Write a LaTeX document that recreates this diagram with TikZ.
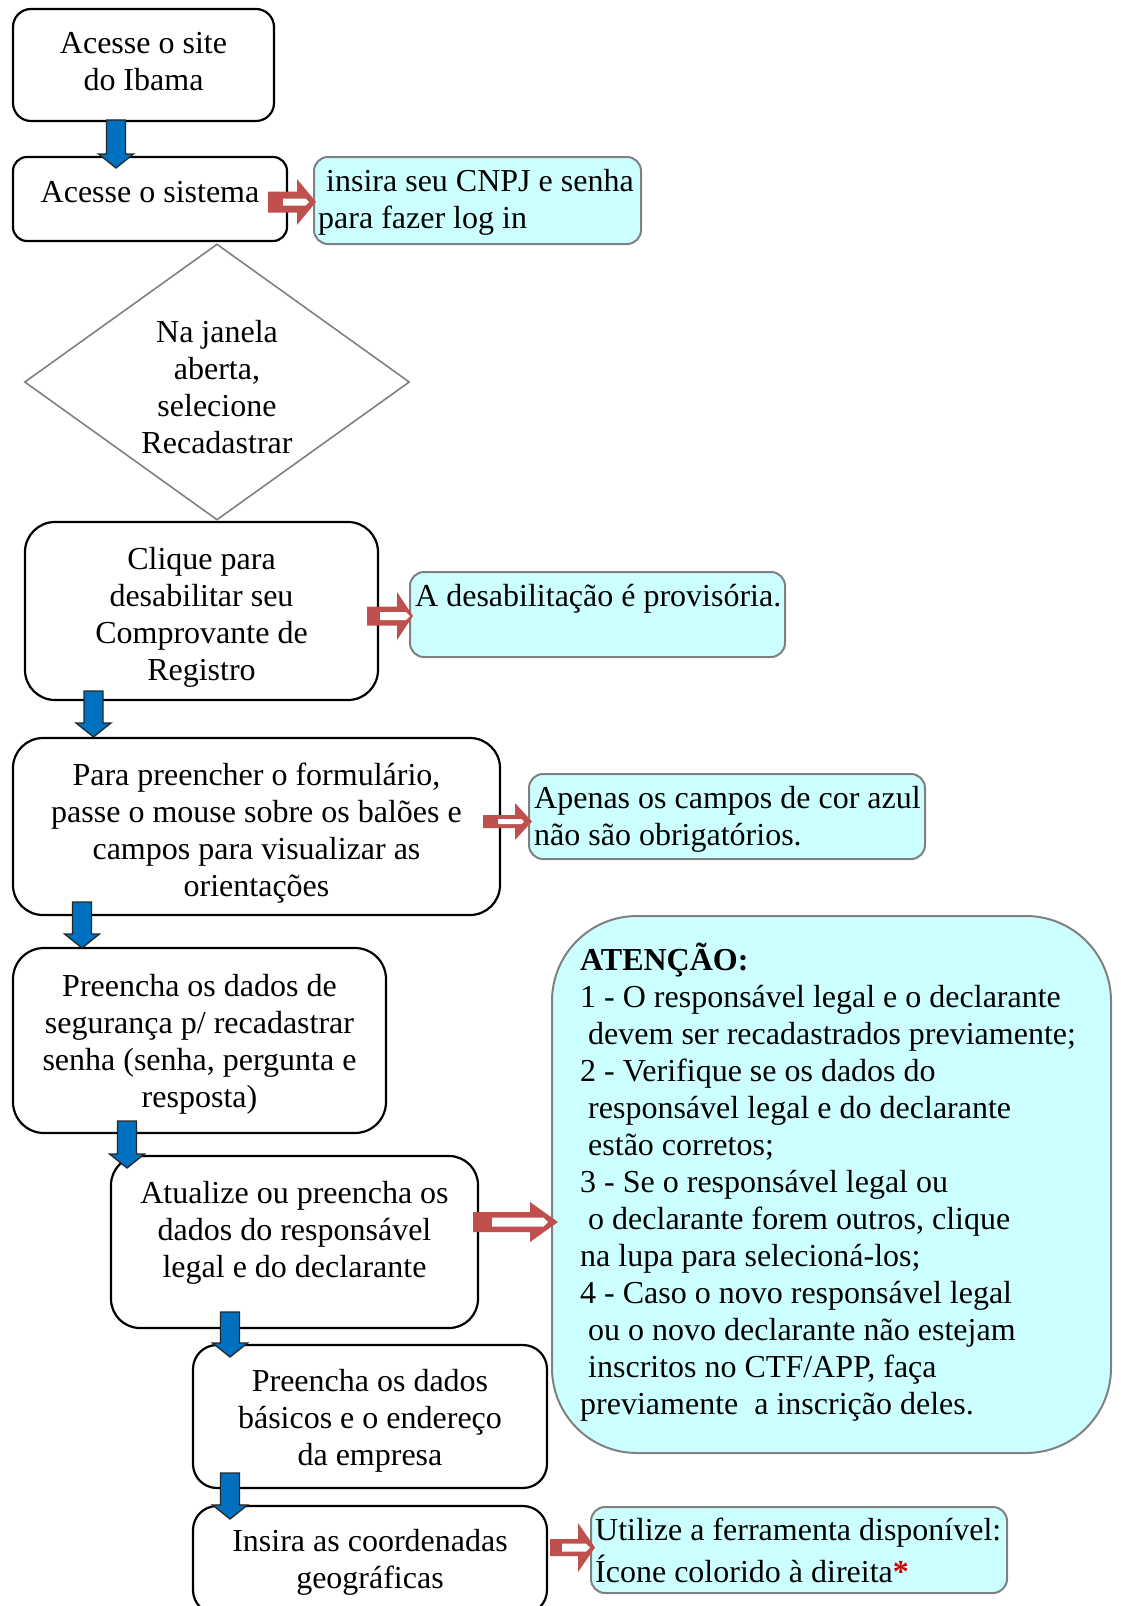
\documentclass[tikz,border=0pt]{standalone}
\usepackage{fontspec}
\setmainfont{Liberation Serif}
\usetikzlibrary{shapes.geometric}

\definecolor{azulseta}{RGB}{0,112,192}
\definecolor{vermseta}{RGB}{192,80,77}
\definecolor{cianonota}{RGB}{204,255,255}
\definecolor{cinzaborda}{RGB}{128,128,128}

\tikzset{
	etapa/.style={draw, line width=2.2pt, inner sep=0pt, rounded corners=#1},
	etapatexto/.style={align=center, inner sep=0pt},
	nota/.style={draw=cinzaborda, fill=cianonota, line width=2pt, inner sep=0pt, rounded corners=#1},
	notatexto/.style={align=left, inner sep=0pt, anchor=west},
	setaazul/.style={fill=azulseta, draw=black!85, line width=1.3pt, line join=miter},
	setaverm/.style={fill=vermseta},
	listra/.style={fill=white}
}

% seta azul para baixo: x, y do topo, y da ponta
\newcommand{\setabaixo}[3]{%
	\filldraw[setaazul] (#1-9.5,#2) -- (#1+9.5,#2) -- (#1+9.5,#3-14) -- (#1+17.5,#3-14)
		-- (#1,#3) -- (#1-17.5,#3-14) -- (#1-9.5,#3-14) -- cycle;}

% seta vermelha vazada: x1, x2, y, cabeca, meia altura cabeca, meia altura haste, listra x1, listra x2, meia listra
\newcommand{\setadir}[9]{%
	\fill[setaverm] (#1,#3-#6) -- (#2-#4,#3-#6) -- (#2-#4,#3-#5) -- (#2,#3)
		-- (#2-#4,#3+#5) -- (#2-#4,#3+#6) -- (#1,#3+#6) -- cycle;
	\fill[listra] (#7,#3-#9) -- (#8-#9,#3-#9) -- (#8,#3) -- (#8-#9,#3+#9) -- (#7,#3+#9) -- cycle;}

\begin{document}
\begin{tikzpicture}[x=1pt, y=-1pt, font=\fontsize{32}{37}\selectfont]
	
	\useasboundingbox (0,0) rectangle (1121,1606);
	\clip (0,0) rectangle (1121,1606);
	
	% caixas do fluxo
	\node[etapa=18pt, minimum width=261pt, minimum height=112pt] (b1) at (143.5,65) {};
	\node[etapatexto] (b1t) at ([yshift=3pt]b1.center) {Acesse o site\\do Ibama};
	\node[etapa=14pt, minimum width=274pt, minimum height=84pt] (b2) at (150,199) {};
	\node[etapatexto] (b2t) at ([yshift=7pt]b2.center) {Acesse o sistema};
	\node[diamond, draw=cinzaborda, line width=1.6pt, aspect=1.4, inner sep=0pt,
		minimum width=385pt, minimum height=276pt] (d1) at (217,382) {};
	\node[etapatexto] (d1t) at ([yshift=-5pt]d1.center) {Na janela\\aberta,\\selecione\\Recadastrar};
	\node[etapa=30pt, minimum width=353pt, minimum height=178pt] (b3) at (201.5,611) {};
	\node[etapatexto] (b3t) at ([yshift=-6pt]b3.center) {Clique para\\desabilitar seu\\Comprovante de\\Registro};
	\node[etapa=30pt, minimum width=487pt, minimum height=177pt] (b4) at (256.5,826.5) {};
	\node[etapatexto] (b4t) at ([yshift=-7pt]b4.center) {Para preencher o formulário,\\passe o mouse sobre os balões e\\campos para visualizar as\\orientações};
	\node[etapa=31pt, minimum width=373pt, minimum height=185pt] (b5) at (199.5,1040.5) {};
	\node[etapatexto] (b5t) at ([yshift=-4pt]b5.center) {Preencha os dados de\\segurança p/ recadastrar\\senha (senha, pergunta e\\resposta)};
	\node[etapa=29pt, minimum width=367pt, minimum height=172pt] (b6) at (294.5,1242) {};
	\node[etapatexto] (b6t) at ([yshift=9pt]b6.center) {Atualize ou preencha os\\dados do responsável\\legal e do declarante};
	\node[etapa=24pt, minimum width=354pt, minimum height=143pt] (b7) at (370,1416.5) {};
	\node[etapatexto] (b7t) at ([yshift=-4pt]b7.center) {Preencha os dados\\básicos e o endereço\\da empresa};
	\node[etapa=24pt, minimum width=354pt, minimum height=108pt] (b8) at (370,1560) {};
	\node[etapatexto] (b8t) at ([yshift=-2pt]b8.center) {Insira as coordenadas\\geográficas};
	
	% notas
	\node[nota=14pt, minimum width=327pt, minimum height=87pt] (c1) at (477.5,200.5) {};
	\node[notatexto] (c1t) at ([xshift=5pt,yshift=-2pt]c1.west) {\hspace*{.25em}insira seu CNPJ e senha\\para fazer log in};
	\node[nota=14pt, minimum width=375pt, minimum height=85pt] (c2) at (597.5,614.5) {};
	\node[notatexto, anchor=base west] (c2t) at ([xshift=6pt,yshift=-35pt]c2.north west) {A desabilitação é provisória.};
	\node[nota=14pt, minimum width=396pt, minimum height=85pt] (c3) at (727,816.5) {};
	\node[notatexto] (c3t) at ([xshift=6pt,yshift=-3pt]c3.west) {Apenas os campos de cor azul\\não são obrigatórios.};
	\node[nota=85pt, minimum width=559pt, minimum height=537pt] (c4) at (831.5,1184.5) {};
	\node[notatexto] (c4t) at ([xshift=29pt,yshift=2pt]c4.west) {\textbf{ATENÇÃO:}\\
		1 - O responsável legal e o declarante\\
		\hspace*{.25em}devem ser recadastrados previamente;\\
		2 - Verifique se os dados do\\
		\hspace*{.25em}responsável legal e do declarante\\
		\hspace*{.25em}estão corretos;\\
		3 - Se o responsável legal ou\\
		\hspace*{.25em}o declarante forem outros, clique\\
		na lupa para selecioná-los;\\
		4 - Caso o novo responsável legal\\
		\hspace*{.25em}ou o novo declarante não estejam\\
		\hspace*{.25em}inscritos no CTF/APP, faça\\
		previamente\ \ a inscrição deles.};
	\node[nota=14pt, minimum width=416pt, minimum height=86pt] (c5) at (799,1550) {};
	\node[notatexto] (c5t) at ([xshift=5pt]c5.west) {Utilize a ferramenta disponível:\\[5pt]Ícone colorido à direita\textcolor{red!80!black}{\textbf{*}}};
	
	% setas azuis
	\setabaixo{116}{120}{168}
	\setabaixo{93.5}{691}{737}
	\setabaixo{82}{902}{948}
	\setabaixo{127}{1121}{1168}
	\setabaixo{230}{1312}{1357}
	\setabaixo{230}{1473}{1519}
	
	% setas vermelhas
	\setadir{268}{316}{202}{19}{23}{10.5}{283}{309}{3.5}
	\setadir{367}{413}{616}{16}{24}{9.5}{380}{410}{4}
	\setadir{483}{532}{821.5}{17}{18.5}{6.5}{498}{524}{2.5}
	\setadir{473}{558}{1222}{28}{20}{10}{492}{548}{4.5}
	\setadir{550}{595}{1547.5}{17}{24.5}{8.5}{562}{590}{4}
	
\end{tikzpicture}
\end{document}
